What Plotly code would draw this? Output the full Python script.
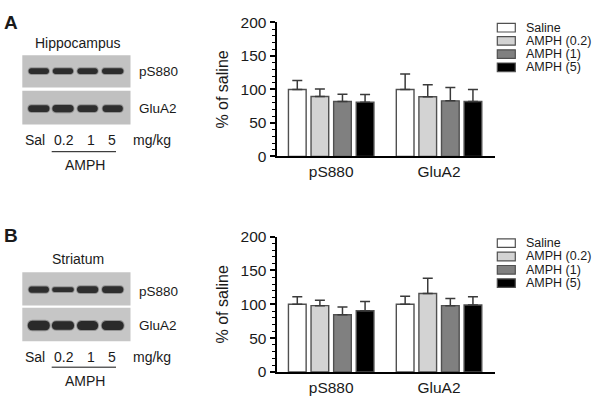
import plotly.graph_objects as go

W, H = 600, 402

# ---------------- data ----------------
categories = ["pS880", "GluA2"]
series_names = ["Saline", "AMPH (0.2)", "AMPH (1)", "AMPH (5)"]
series_colors = ["#ffffff", "#d3d3d3", "#808080", "#000000"]

# Panel A (Hippocampus)
a_means = {
    "Saline": [100, 100],
    "AMPH (0.2)": [89.5, 89],
    "AMPH (1)": [82, 83],
    "AMPH (5)": [81, 82],
}
a_errs = {
    "Saline": [13.5, 23],
    "AMPH (0.2)": [11, 18],
    "AMPH (1)": [11, 20],
    "AMPH (5)": [11.5, 18],
}
# Panel B (Striatum)
b_means = {
    "Saline": [100, 100],
    "AMPH (0.2)": [98, 116],
    "AMPH (1)": [84.5, 98],
    "AMPH (5)": [90.5, 99],
}
b_errs = {
    "Saline": [11, 12],
    "AMPH (0.2)": [8, 22.5],
    "AMPH (1)": [11.5, 10.5],
    "AMPH (5)": [13.5, 12],
}

y_ticks = [0, 50, 100, 150, 200]
lane_labels = ["Sal", "0.2", "1", "5"]

FONT = "Arial, Liberation Sans, sans-serif"
TXT = "#1a1a1a"


def px(x):
    return x / W


def py(y):
    return 1 - y / H


fig = go.Figure()

for panel, (means, errs, xa, ya) in enumerate(
    [(a_means, a_errs, "x", "y"), (b_means, b_errs, "x2", "y2")]
):
    for name, col in zip(series_names, series_colors):
        fig.add_trace(
            go.Bar(
                x=categories,
                y=means[name],
                name=name,
                marker=dict(color=col, line=dict(color="#505050", width=1.4)),
                error_y=dict(
                    type="data",
                    symmetric=False,
                    array=errs[name],
                    arrayminus=[0, 0],
                    color="#3a3a3a",
                    thickness=1.5,
                    width=5,
                ),
                xaxis=xa,
                yaxis=ya,
                showlegend=False,
            )
        )

xdom = [px(276.5), px(494.7)]
ydomA = [py(154), py(14)]
ydomB = [py(379), py(237.7)]


def xax(anchor):
    return dict(
        domain=xdom,
        anchor=anchor,
        type="category",
        range=[-0.507, 1.516],
        showline=True,
        linecolor="#000",
        linewidth=2,
        ticks="",
        showgrid=False,
        zeroline=False,
        tickfont=dict(family=FONT, size=15.5, color=TXT),
        fixedrange=True,
    )


def yax(domain, anchor):
    return dict(
        domain=domain,
        anchor=anchor,
        range=[0, 200],
        tickvals=y_ticks,
        showline=True,
        linecolor="#000",
        linewidth=2,
        ticks="outside",
        ticklen=5,
        tickwidth=1.5,
        tickcolor="#000",
        minor=dict(dtick=10, ticks="outside", ticklen=3, tickwidth=1, tickcolor="#000"),
        showgrid=False,
        zeroline=False,
        tickfont=dict(family=FONT, size=15.5, color=TXT),
        title=dict(text="% of saline", font=dict(family=FONT, size=16, color=TXT), standoff=8),
        fixedrange=True,
    )


shapes = []
annotations = []


def text(x, y, s, size=14, bold=False, xanchor="center"):
    annotations.append(
        dict(
            x=px(x), y=py(y), xref="paper", yref="paper", text=("<b>%s</b>" % s) if bold else s,
            showarrow=False, xanchor=xanchor, yanchor="middle",
            font=dict(family=FONT, size=size, color=TXT),
        )
    )


# ---------------- legends (drawn) ----------------
def legend(rows):
    for name, col, yc in zip(series_names, series_colors, rows):
        shapes.append(
            dict(type="rect", xref="paper", yref="paper",
                 x0=px(497.3), x1=px(515.3), y0=py(yc + 4.5), y1=py(yc - 4.5),
                 fillcolor=col, line=dict(color="#505050", width=1.2))
        )
        text(524, yc, name, size=12.5, xanchor="left")


legend([19.5, 33.3, 47.1, 60.9])
legend([244.5, 258.4, 272.3, 286.2])


# ---------------- blots (drawn) ----------------
def band(xc, yc, w, h, dark):
    # soft halo + core, rounded ends
    for grow, color, op in [(2.0, "#6a6a6a", 0.55), (0.0, dark, 1.0)]:
        ww, hh = w + grow, h + grow
        x0, x1 = xc - ww / 2, xc + ww / 2
        y0, y1 = yc - hh / 2, yc + hh / 2
        r = hh / 2
        path = (
            f"M {px(x0 + r)},{py(y0)} L {px(x1 - r)},{py(y0)} "
            f"C {px(x1 + r * 0.2)},{py(y0)} {px(x1 + r * 0.2)},{py(y1)} {px(x1 - r)},{py(y1)} "
            f"L {px(x0 + r)},{py(y1)} "
            f"C {px(x0 - r * 0.2)},{py(y1)} {px(x0 - r * 0.2)},{py(y0)} {px(x0 + r)},{py(y0)} Z"
        )
        shapes.append(dict(type="path", xref="paper", yref="paper", path=path,
                           fillcolor=color, opacity=op, line=dict(width=0)))


lanes = [38.8, 63.0, 87.6, 112.7]


def blot(top, bot, bg, band_y, band_h, band_w, dark):
    shapes.append(dict(type="rect", xref="paper", yref="paper",
                       x0=px(22.3), x1=px(130.5), y0=py(bot), y1=py(top),
                       fillcolor=bg, line=dict(width=0)))
    for xc, h, w in zip(lanes, band_h, band_w):
        band(xc, band_y, w, h, dark)


# Panel A blots
blot(48.3, 82.0, "#c2c2c2", 64.8, [6, 6, 6, 6], [21, 21, 21, 22], "#2c2c2c")
blot(85.3, 120.7, "#c0c0c0", 104.0, [7, 7.5, 7, 7], [22, 22, 21, 21], "#2e2e2e")
# Panel B blots
blot(275.0, 309.5, "#c4c4c4", 293.0, [6.5, 5, 7, 7], [21, 22, 22, 22], "#2e2e2e")
blot(312.0, 347.0, "#c6c6c6", 330.5, [10, 9, 9.5, 9.5], [23, 23, 22, 23], "#2a2a2a")

# Blot labels
for (title, ty, ly1, ly2, ry, liney, amphy, letter, lettery) in [
    ("Hippocampus", 35.5, 65.0, 103.5, 137.0, 149.0, 163.3, "A", 14.0),
    ("Striatum", 261.0, 294.5, 330.0, 363.3, 374.0, 388.5, "B", 236.7),
]:
    text(10.5, lettery, letter, size=19, bold=True)
    text(78, ty, title, size=14)
    text(137, ly1, "pS880", size=13.5, xanchor="left")
    text(137, ly2, "GluA2", size=13.5, xanchor="left")
    for xc, lab in zip([35, 63.7, 90.5, 112], lane_labels):
        text(xc, ry, lab, size=14)
    text(151.7, ry, "mg/kg", size=14)
    shapes.append(dict(type="line", xref="paper", yref="paper",
                       x0=px(51.7), x1=px(116), y0=py(liney), y1=py(liney),
                       line=dict(color="#111", width=1)))
    text(84.5, amphy, "AMPH", size=14)

fig.update_layout(
    width=W,
    height=H,
    margin=dict(l=0, r=0, t=0, b=0),
    paper_bgcolor="white",
    plot_bgcolor="white",
    barmode="group",
    bargap=0.162,
    bargroupgap=0.217,
    showlegend=False,
    xaxis=xax("y"),
    yaxis=yax(ydomA, "x"),
    xaxis2=xax("y2"),
    yaxis2=yax(ydomB, "x2"),
    shapes=shapes,
    annotations=annotations,
    font=dict(family=FONT, color=TXT),
)

fig.write_html(
    "out.html",
    config={"displayModeBar": False},
    post_script="document.body.style.margin='0';document.body.style.overflow='hidden';",
)
